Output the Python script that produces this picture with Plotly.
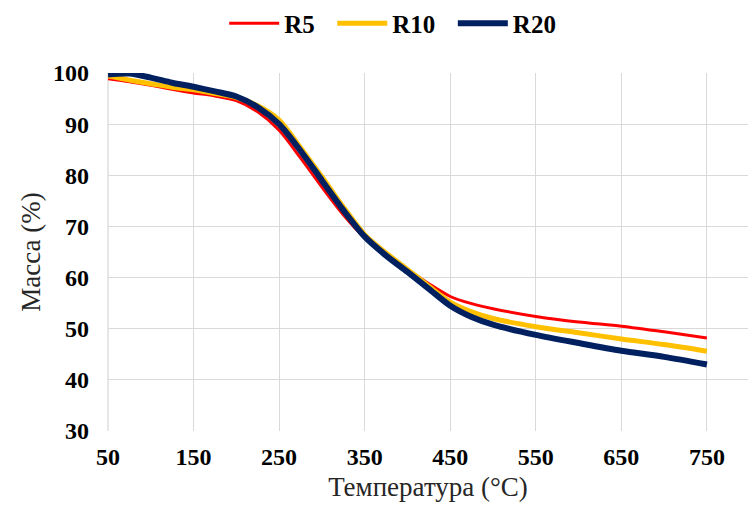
import plotly.graph_objects as go

temperature = [50, 75, 100, 125, 150, 175, 200, 225, 250, 275, 300, 325, 350, 375,
               400, 425, 450, 475, 500, 550, 600, 650, 700, 750]
r5 = [98.9, 98.3, 97.6, 96.8, 96.1, 95.5, 94.6, 92.4, 88.8, 83.4, 77.7, 72.3, 67.8, 64.5,
      61.6, 58.8, 56.3, 54.9, 53.9, 52.4, 51.3, 50.5, 49.4, 48.2]
r10 = [99.4, 98.6, 97.9, 97.2, 96.7, 96.0, 95.2, 93.6, 90.8, 85.4, 79.7, 73.8, 68.4, 64.8,
       61.6, 58.3, 55.2, 53.3, 52.0, 50.4, 49.2, 48.0, 46.9, 45.6]
r20 = [99.7, 99.9, 99.1, 98.1, 97.3, 96.4, 95.4, 93.3, 90.0, 84.8, 79.0, 73.2, 68.0, 64.3,
       61.1, 57.8, 54.5, 52.3, 50.8, 48.8, 47.2, 45.7, 44.5, 43.0]

series_names = ["R5", "R10", "R20"]
series_values = [r5, r10, r20]
series_colors = ["#FF0000", "#FFC000", "#002060"]
series_widths = [3, 5, 6]

x_ticks = [50, 150, 250, 350, 450, 550, 650, 750]
y_ticks = [30, 40, 50, 60, 70, 80, 90, 100]

fig = go.Figure()
for name, vals, col, w in zip(series_names, series_values, series_colors, series_widths):
    fig.add_trace(go.Scatter(
        x=temperature, y=vals, name=name + "\u00a0\u00a0", mode="lines",
        line=dict(color=col, width=w, shape="spline", smoothing=0.8),
    ))

serif = "Times New Roman, Liberation Serif, serif"
fig.update_layout(
    width=749, height=511,
    margin=dict(l=108, r=1, t=73, b=80),
    plot_bgcolor="white", paper_bgcolor="white",
    font=dict(family=serif, color="black"),
    showlegend=True,
    legend=dict(
        orientation="h", x=0.455, xanchor="center", y=1.138, yanchor="middle",
        font=dict(family=serif, size=25, color="black", weight="bold"),
        itemwidth=50, tracegroupgap=0, bgcolor="rgba(0,0,0,0)",
    ),
    xaxis=dict(
        range=[50, 798], tickvals=x_ticks, ticktext=[str(v) for v in x_ticks],
        showgrid=True, gridcolor="#D9D9D9", gridwidth=1.3,
        showline=False, zeroline=False, ticks="", ticklabelstandoff=9,
        tickfont=dict(family=serif, size=24, color="black", weight="bold"),
        title=dict(text="Температура (°C)", font=dict(family=serif, size=27, color="#262626"), standoff=8),
    ),
    yaxis=dict(
        range=[30, 100], tickvals=y_ticks, ticktext=[str(v) for v in y_ticks],
        showgrid=True, gridcolor="#D9D9D9", gridwidth=1.3,
        showline=False, zeroline=False, ticks="", ticklabelstandoff=18,
        tickfont=dict(family=serif, size=24, color="black", weight="bold"),
        title=dict(text="Масса (%)", font=dict(family=serif, size=27, color="#262626"), standoff=4),
    ),
)
# left boundary line (light gray like the gridlines)
fig.add_shape(type="line", xref="paper", yref="paper", x0=0, x1=0, y0=0, y1=1,
              line=dict(color="#D9D9D9", width=1.3), layer="below")

fig.write_html("out.html")
